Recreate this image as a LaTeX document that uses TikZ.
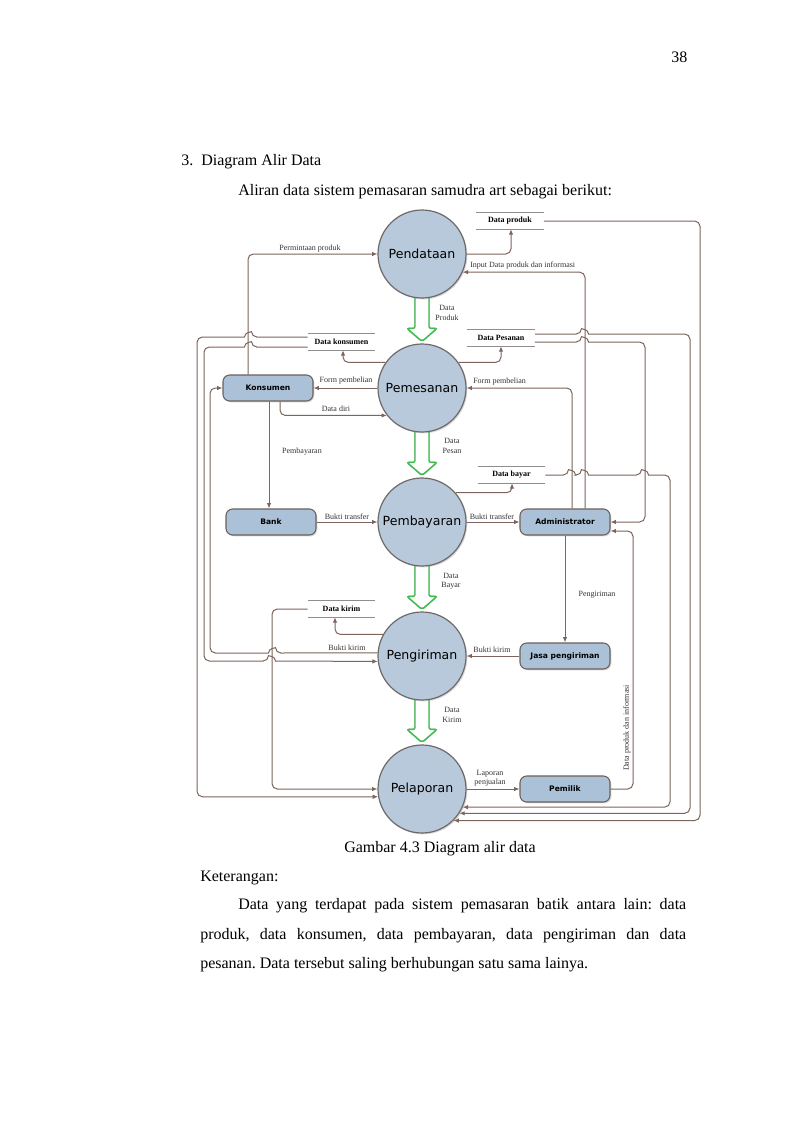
\documentclass[tikz,border=0pt]{standalone}
\usepackage{fontspec}
\setmainfont{Liberation Serif}
\newfontfamily\dvs{DejaVu Sans}
\usetikzlibrary{arrows.meta,calc,shadows}
\pgfdeclarelayer{background}
\pgfsetlayers{background,main}
\definecolor{procfill}{HTML}{B7C9DB}
\definecolor{procline}{HTML}{6E6A6A}
\definecolor{entfill}{HTML}{AAC1D7}
\definecolor{entline}{HTML}{6D5F5A}
\definecolor{flowc}{HTML}{7D645C}
\definecolor{storec}{HTML}{8E8E8E}
\definecolor{greenc}{HTML}{3DBE4E}
\newcommand{\bumpR}[2]{-- (#1-3.5,#2) [sharp corners] .. controls (#1-3.5,#2-5) and (#1+3.5,#2-5) .. (#1+3.5,#2) -- (#1+4.5,#2) [rounded corners=4pt]}
\newcommand{\bumpL}[2]{-- (#1+3.5,#2) [sharp corners] .. controls (#1+3.5,#2-5) and (#1-3.5,#2-5) .. (#1-3.5,#2) -- (#1-4.5,#2) [rounded corners=4pt]}
\frenchspacing
\begin{document}
\begin{tikzpicture}[x=0.75pt, y=-0.75pt,
 proc/.style={circle, draw=procline, line width=0.9pt, fill=procfill, minimum size=66pt, inner sep=0pt, font=\dvs\fontsize{9.4}{11}\selectfont, drop shadow={shadow xshift=1pt, shadow yshift=-1pt, opacity=0.3}},
 ent/.style={rectangle, rounded corners=5pt, draw=entline, line width=0.8pt, fill=entfill, minimum width=67.5pt, minimum height=19.5pt, inner sep=0pt, font=\dvs\bfseries\fontsize{5.7}{7}\selectfont, drop shadow={shadow xshift=1pt, shadow yshift=-1pt, opacity=0.3}},
 store/.style={minimum width=50.25pt, minimum height=12pt, inner sep=0pt, font=\bfseries\fontsize{6}{7}\selectfont},
 storeline/.style={draw=storec, line width=0.9pt},
 flow/.style={draw=flowc, line width=0.75pt, rounded corners=4pt, -{Latex[length=4pt,width=3.4pt]}},
 lbl/.style={font=\fontsize{6}{7}\selectfont, inner sep=0pt, text=black!80},
 garrow/.style={draw=greenc, fill=white, line width=1.1pt, rounded corners=1.5pt},
 gshadow/.style={draw=black!30, line width=1.1pt, rounded corners=1.5pt},
 body/.style={font=\fontsize{12}{14}\selectfont, inner sep=0pt, anchor=base west}]
\useasboundingbox (0,0) rectangle (800,1132);

% processes
\node[proc] (pend) at (422,254) {Pendataan};
\node[proc] (pems) at (422,388) {Pemesanan};
\node[proc] (pemb) at (422,522) {Pembayaran};
\node[proc] (peng) at (422,656) {Pengiriman};
\node[proc] (pel)  at (422,789) {Pelaporan};

% external entities
\node[ent] (kons)    at (268,388) {Konsumen};
\node[ent] (bank)    at (271,522) {Bank};
\node[ent] (admin)   at (565,522) {Administrator};
\node[ent] (jasa)    at (565,656) {Jasa pengiriman};
\node[ent] (pemilik) at (565,789) {Pemilik};

% data stores
\node[store] (dproduk)   at (510,221)   {Data produk};
\node[store] (dkonsumen) at (341.5,342) {Data konsumen};
\node[store] (dpesanan)  at (501,338)   {Data Pesanan};
\node[store] (dbayar)    at (511.5,475) {Data bayar};
\node[store] (dkirim)    at (341.5,609) {Data kirim};
\foreach \s in {dproduk,dkonsumen,dpesanan,dbayar,dkirim}{
  \draw[storeline] (\s.north west) -- (\s.north east) (\s.south west) -- (\s.south east);
}

% background layer: page and green arrows
\begin{pgfonlayer}{background}
\fill[white] (0,0) rectangle (800,1132);
\foreach \a/\b in {pend/pems,pems/pemb,pemb/peng,peng/pel}{
  \draw[gshadow,xshift=1.3pt,yshift=-1.3pt] ($(\a.south)+(-7,-2)$) -- ($(\b.north)+(-7,-15)$) -- ($(\b.north)+(-15,-15)$) -- ($(\b.north)+(0,-2)$) -- ($(\b.north)+(15,-15)$) -- ($(\b.north)+(7,-15)$) -- ($(\a.south)+(7,-2)$);
  \draw[garrow] ($(\a.south)+(-7,-2)$) -- ($(\b.north)+(-7,-15)$) -- ($(\b.north)+(-15,-15)$) -- ($(\b.north)+(0,-2)$) -- ($(\b.north)+(15,-15)$) -- ($(\b.north)+(7,-15)$) -- ($(\a.south)+(7,-2)$);
}
\end{pgfonlayer}

% flows
\draw[flow] (248,0 |- kons.north) -- (248,0 |- pend.west) -- (pend.west);
\draw[flow] (pend.east) -- (511,0 |- pend.east) -- (511,0 |- dproduk.south);
\draw[flow] (585,0 |- admin.north) -- (585,0 |- pend.-24) -- (pend.-24);
\draw[flow] (dproduk.east) -- (700,0 |- dproduk.east) -- (700,0 |- pel.-45) -- (pel.-45);
\draw[flow] (dpesanan.east |- 0,334) \bumpR{585}{334} -- (690,334) -- (690,0 |- pel.-33) -- (pel.-33);
\draw[flow] (dpesanan.east |- 0,342) \bumpR{585}{342} -- (645,342) -- (645,0 |- admin.east) -- (admin.east);
\draw[flow] (dbayar.east) \bumpR{572}{475} \bumpR{585}{475} \bumpR{645}{475} -- (670,475) -- (670,0 |- pel.-24) -- (pel.-24);
\draw[flow] (pemilik.east) -- (633,0 |- pemilik.east) -- (633,531) -- (admin.east |- 0,531);
\draw[flow] (572,0 |- admin.north) -- (572,0 |- pems.east) -- (pems.east);
\draw[flow] (pems.west) -- (kons.east);
\draw[flow] (280,0 |- kons.south) -- (280,0 |- pems.218) -- (pems.218);
\draw[flow] (pems.145) -- (343,0 |- pems.145) -- (343,0 |- dkonsumen.south);
\draw[flow] (pems.35) -- (501,0 |- pems.35) -- (dpesanan.south);
\draw[flow] (269,0 |- kons.south) -- (269,0 |- bank.north);
\draw[flow] (bank.east) -- (pemb.west);
\draw[flow] (pemb.east) -- (admin.west);
\draw[flow] (pemb.41) -- (512,0 |- pemb.41) -- (512,0 |- dbayar.south);
\draw[flow] (admin.south) -- (jasa.north);
\draw[flow] (jasa.west) -- (peng.east);
\draw[flow] (peng.151) -- (335,0 |- peng.151) -- (335,0 |- dkirim.south);
\draw[flow] (peng.176) \bumpL{272}{653} -- (210,653) -- (210,0 |- kons.west) -- (kons.west);
\draw[flow] (dkonsumen.west |- 0,347) \bumpL{248}{347} -- (204,347) -- (204,661) \bumpR{272}{661} -- (peng.187);
\draw[flow] (dkonsumen.west |- 0,337) \bumpL{248}{337} -- (197,337) -- (197,0 |- pel.190) -- (pel.190);
\draw[flow] (dkirim.west) -- (272,0 |- dkirim.west) -- (272,0 |- pel.west) -- (pel.west);
\draw[flow] (pel.east) -- (pemilik.west);

% flow labels
\node[lbl] (l1) at (310,249) {Permintaan produk};
\node[lbl,anchor=west] (l2) at (470,266) {Input Data produk dan informasi};
\node[lbl,align=center] (l3) at (447,313) {Data\\Produk};
\node[lbl,anchor=west] (l4) at (473,382) {Form pembelian};
\node[lbl] (l5) at (346,381) {Form pembelian};
\node[lbl] (l6) at (336,409) {Data diri};
\node[lbl,align=center] (l7) at (452,446) {Data\\Pesan};
\node[lbl] (l8) at (302,452) {Pembayaran};
\node[lbl] (l9) at (347,517) {Bukti transfer};
\node[lbl] (l10) at (492,517) {Bukti transfer};
\node[lbl,align=center] (l11) at (451,581) {Data\\Bayar};
\node[lbl] (l12) at (597,595) {Pengiriman};
\node[lbl] (l13) at (347,648) {Bukti kirim};
\node[lbl] (l14) at (492,650) {Bukti kirim};
\node[lbl,align=center] (l15) at (452,715) {Data\\Kirim};
\node[lbl,align=center] (l16) at (490,778) {Laporan\\penjualan};
\node[lbl,rotate=90] (l17) at (627,728) {Data produk dan informasi};

% page text
\node[body] (pg) at (671,62) {38};
\node[body] (h3) at (181,165) {3.\hspace{6pt}Diagram Alir Data};
\node[body] (intro) at (238,195) {Aliran data sistem pemasaran samudra art sebagai berikut:};
\node[body,anchor=center] (cap) at (440,849) {Gambar 4.3 Diagram alir data};
\node[body] (ket) at (200,881) {Keterangan:};
\node[body] (p1) at (238,909) {\makebox[336pt][s]{Data yang terdapat pada sistem pemasaran batik antara lain: data}};
\node[body] (p2) at (200,939) {\makebox[364.5pt][s]{produk, data konsumen, data pembayaran, data pengiriman dan data}};
\node[body] (p3) at (200,968) {pesanan. Data tersebut saling berhubungan satu sama lainya.};
\end{tikzpicture}
\end{document}
